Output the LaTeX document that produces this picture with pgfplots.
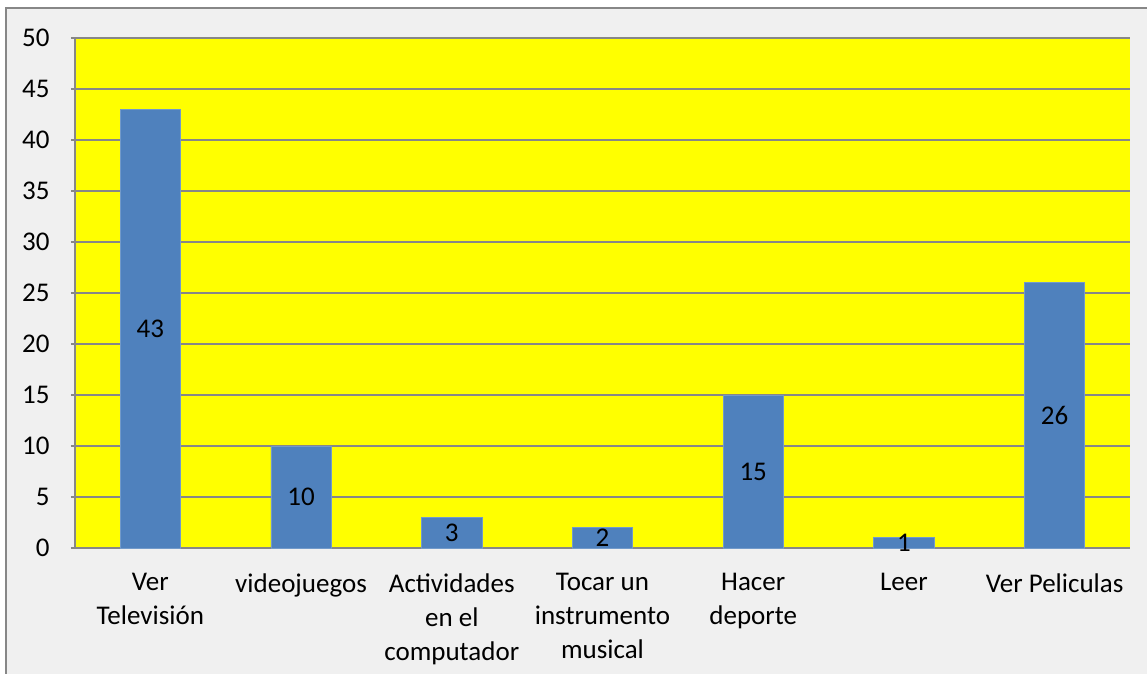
\documentclass[border=0pt]{standalone}
\usepackage{pgfplots}
\pgfplotsset{compat=1.18}
\usepackage{fontspec}
\setmainfont{Carlito}
\definecolor{barblue}{HTML}{4F81BD}
\definecolor{gridgray}{HTML}{878787}
\definecolor{chartbg}{HTML}{F0F0F0}
\definecolor{plotyellow}{HTML}{FFFF00}
\newcommand{\chartfont}{\fontsize{13.5bp}{17bp}\selectfont}

\begin{document}
\chartfont
\begin{tikzpicture}
  % outer chart frame (1px = 0.5bp)
  \fill[white] (0,0) rectangle (573.5bp,-337bp);
  \fill[chartbg] (3bp,-4bp) rectangle (573.5bp,-337bp);
  \draw[gridgray, line width=1bp] (3bp,-337bp) -- (3bp,-4bp) -- (573.5bp,-4bp);

  \begin{axis}[
      at={(37.5bp,-274bp)}, anchor=south west,
      scale only axis,
      width=527.5bp, height=255bp,
      xmin=-0.5, xmax=6.5,
      ymin=0, ymax=50,
      ytick={0,5,...,50},
      xtick={0,...,6},
      xticklabels={Ver\\Televisión, videojuegos, Actividades\\en el\\computador,
                   Tocar un\\instrumento\\musical, Hacer\\deporte, Leer, Ver Peliculas},
      tick label style={font=\chartfont},
      xticklabel style={align=center, yshift=-4bp},
      yticklabel style={xshift=-6bp},
      /pgf/number format/assume math mode=true,
      major x tick style={draw=none},
      extra x ticks={-0.5,0.5,...,6.5},
      extra x tick labels={},
      extra x tick style={major tick length=4bp, tick style={draw=gridgray, line width=1bp}, grid=none},
      tick align=outside,
      major tick length=4bp,
      ytick style={draw=gridgray, line width=1bp},
      axis lines=left,
      axis line style={draw=gridgray, line width=1bp, -},
      ymajorgrids,
      major grid style={draw=gridgray, line width=0.9bp},
      axis background/.style={fill=plotyellow},
      ybar, bar width=0.4,
      visualization depends on={y \as \rawy},
      nodes near coords,
      every node near coord/.append style={anchor=center, yshift=-\rawy*2.55bp,
          font=\chartfont, text=black},
      clip=false,
    ]
    \addplot[fill=barblue, draw=barblue!80!white] coordinates {
      (0,43) (1,10) (2,3) (3,2) (4,15) (5,1) (6,26)
    };
  \end{axis}

  \pgfresetboundingbox
  \useasboundingbox (0,0) rectangle (573.5bp,-337bp);
\end{tikzpicture}
\end{document}
